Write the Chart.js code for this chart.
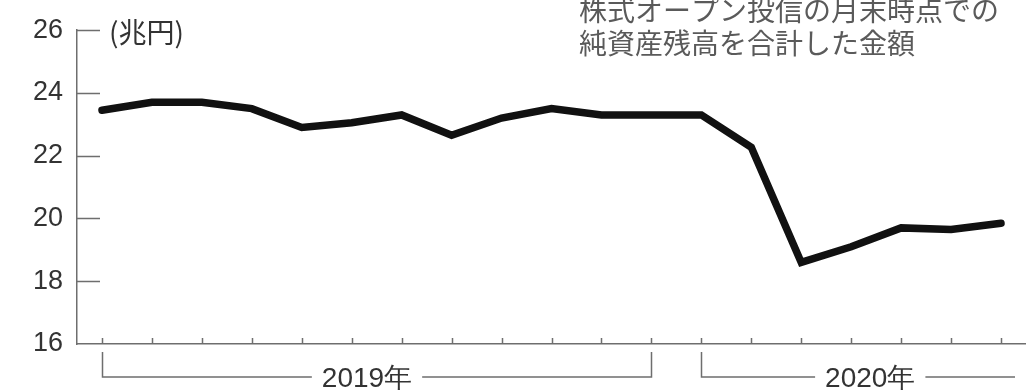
<!DOCTYPE html>
<html>
<head>
<meta charset="utf-8">
<script src="https://cdn.jsdelivr.net/npm/chart.js@4"></script>
<style>
  body { margin: 0; background: #fff; }
  #wrap { width: 1026px; height: 390px; position: relative; }
</style>
</head>
<body>
<div id="wrap"><canvas id="chart"></canvas></div>
<script>
// Monthly end-of-month totals, Jan 2019 - Jul 2020 (兆円)
const months = [
    '2019/1', '2019/2', '2019/3', '2019/4', '2019/5', '2019/6',
    '2019/7', '2019/8', '2019/9', '2019/10', '2019/11', '2019/12',
    '2020/1', '2020/2', '2020/3', '2020/4', '2020/5', '2020/6', '2020/7'
];
const netAssets = [
    23.45, 23.7, 23.7, 23.5, 22.9, 23.05,
    23.3, 22.65, 23.2, 23.5, 23.3, 23.3,
    23.3, 22.27, 18.6, 19.1, 19.7, 19.65, 19.85
];
const yTicks = [16, 18, 20, 22, 24, 26];
const yearGroups = [
    { label: '2019年', from: 0, to: 11, closed: true },
    { label: '2020年', from: 12, to: 18, closed: false }
];
const unitLabel = '(兆円)';
const noteLines = ['株式オープン投信の月末時点での', '純資産残高を合計した金額'];

const axisColor = '#6e6e6e';
const textColor = '#333';
const jpFont = '"Noto Sans CJK JP", "Noto Sans", sans-serif';
const narrowFont = '"Liberation Sans Narrow", "Liberation Sans", Arial, sans-serif';

// inside ticks, brackets and the extra texts
const decor = {
    id: 'decor',
    beforeDatasetsDraw(chart) {
        const { ctx, chartArea, scales: { x, y } } = chart;
        ctx.save();
        ctx.strokeStyle = axisColor;
        ctx.lineWidth = 1.5;
        ctx.beginPath();
        yTicks.forEach(v => {
            if (v === yTicks[0]) return;
            const py = Math.round(y.getPixelForValue(v)) + 0.5;
            ctx.moveTo(chartArea.left, py);
            ctx.lineTo(chartArea.left + 23, py);
        });
        months.forEach((m, i) => {
            const px = Math.round(x.getPixelForValue(i)) + 0.5;
            ctx.moveTo(px, chartArea.bottom);
            ctx.lineTo(px, chartArea.bottom - 6);
        });
        ctx.stroke();
        ctx.restore();
    },
    afterDraw(chart) {
        const { ctx, chartArea, scales: { x } } = chart;
        ctx.save();
        // year brackets
        const top = chartArea.bottom + 8;
        const lineY = chartArea.bottom + 33;
        ctx.font = '28px ' + narrowFont;
        ctx.fillStyle = textColor;
        ctx.textAlign = 'center';
        ctx.textBaseline = 'middle';
        ctx.strokeStyle = axisColor;
        ctx.lineWidth = 1.5;
        yearGroups.forEach(g => {
            const x0 = Math.round(x.getPixelForValue(g.from)) + 0.5;
            const x1 = g.closed ? Math.round(x.getPixelForValue(g.to)) + 0.5 : chartArea.right - 11;
            const mid = g.closed ? (x0 + x1) / 2 - 10 : (x0 + x1) / 2 + 12;
            const tw = ctx.measureText(g.label).width;
            ctx.beginPath();
            ctx.moveTo(x0, top);
            ctx.lineTo(x0, lineY);
            ctx.lineTo(mid - tw / 2 - 10, lineY);
            ctx.moveTo(mid + tw / 2 + 10, lineY);
            ctx.lineTo(x1, lineY);
            if (g.closed) ctx.lineTo(x1, top);
            ctx.stroke();
            ctx.fillText(g.label, mid, lineY + 2);
        });
        // unit
        ctx.textAlign = 'left';
        ctx.font = '28px ' + jpFont;
        ctx.fillStyle = textColor;
        ctx.fillText(unitLabel, chartArea.left + 32, chartArea.top + 2);
        // note
        ctx.font = '28px ' + jpFont;
        ctx.fillStyle = '#5a5a5a';
        noteLines.forEach((t, i) => ctx.fillText(t, 579, 10 + i * 33));
        ctx.restore();
    }
};

const chart = new Chart(document.getElementById('chart'), {
    type: 'line',
    data: {
        labels: months,
        datasets: [{
            data: netAssets,
            borderColor: '#111',
            borderWidth: 7.5,
            pointRadius: 0,
            tension: 0,
            borderJoinStyle: 'miter',
            borderCapStyle: 'round'
        }]
    },
    options: {
        responsive: true,
        maintainAspectRatio: false,
        animation: false,
        layout: { padding: { top: 30, right: 0, left: 0, bottom: 0 } },
        plugins: {
            legend: { display: false },
            tooltip: { enabled: false }
        },
        scales: {
            x: {
                offset: true,
                grid: { display: false, drawTicks: false },
                border: { display: true, color: axisColor, width: 1.5 },
                ticks: { display: false },
                afterFit(scale) { scale.height = 46; }
            },
            y: {
                min: 16,
                max: 26,
                afterBuildTicks(scale) { scale.ticks = yTicks.map(v => ({ value: v })); },
                grid: { display: false, drawTicks: false },
                border: { display: true, color: axisColor, width: 1.5 },
                ticks: {
                    padding: 14,
                    color: textColor,
                    font: { family: '"Liberation Sans", Arial, sans-serif', size: 27 }
                },
                afterFit(scale) { scale.width = 77; }
            }
        }
    },
    plugins: [decor]
});
</script>
</body>
</html>
